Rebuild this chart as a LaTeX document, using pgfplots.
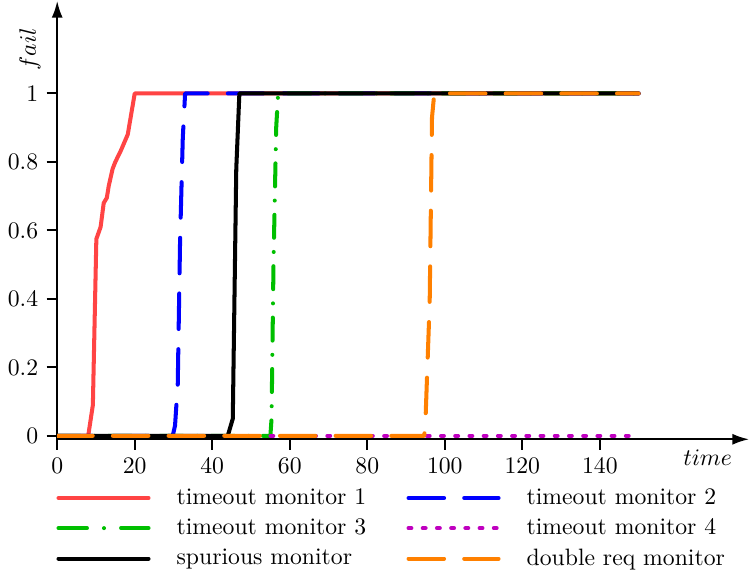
\documentclass[border=0pt]{standalone}
\usepackage{pgfplots}
\pgfplotsset{compat=1.18}
\usetikzlibrary{arrows.meta}
\definecolor{cred}{RGB}{255,68,68}
\definecolor{cblue}{RGB}{0,0,255}
\definecolor{cgreen}{RGB}{0,191,0}
\definecolor{cmag}{RGB}{191,0,191}
\definecolor{corange}{RGB}{255,128,0}
\begin{document}
\begin{tikzpicture}
\begin{axis}[
    scale only axis,
    width = 292pt,
    height = 185pt,
    axis lines = left,
    axis line style = {thick, -{Latex[length=7pt,width=4.6pt]}},
    xmin = 0, xmax = 178.5,
    ymin = -0.01, ymax = 1.27,
    xtick = {0,20,...,140},
    ytick = {0,0.2,...,1},
    tick align = outside,
    major tick length = 4.5pt,
    tick style = {thick, black},
    xlabel = {$time$},
    ylabel = {$fail$},
    x label style = {at={(rel axis cs:0.94,0)}, anchor=north, yshift=-1pt},
    y label style = {at={(rel axis cs:-0.012,0.89)}, anchor=south},
    every axis plot/.append style = {line width=1.7pt, line join=round, line cap=round},
    legend columns = 2,
    legend cell align = left,
    legend image code/.code = {\draw[line width=1.7pt, line cap=round, #1] (0pt,0pt) -- (38pt,0pt);},
    legend style = {draw=none, fill=none, at={(rel axis cs:0,0)}, anchor=north west,
        xshift=-3.5pt, yshift=-16.5pt,
        /tikz/row sep=0.5pt,
        /tikz/every odd column/.append style={column sep=9pt},
        /tikz/every even column/.append style={column sep=15pt}},
]
\addplot[cred] coordinates {
    (0,0) (8,0) (9.2,0.09) (10.1,0.575) (11.2,0.61) (12,0.68) (12.8,0.695)
    (13.3,0.73) (14.3,0.78) (15,0.80) (16.5,0.835) (18.2,0.88) (20,1) (150,1)
};
\addplot[cblue, dash pattern=on 15pt off 8.5pt] coordinates {
    (0,0) (29.8,0) (30.4,0.03) (31.1,0.15) (31.7,0.57) (32.4,0.87) (33,1) (150,1)
};
\addplot[cgreen, dash pattern=on 9.7pt off 6pt on 0pt off 6pt,
    legend image post style={dash pattern=on 12pt off 7.2pt on 0pt off 7.2pt}] coordinates {
    (0,0) (55,0) (55.3,0.05) (55.8,0.5) (56.5,0.9) (57,1) (150,1)
};
\addplot[cmag, dash pattern=on 1.2pt off 4.8pt] coordinates {
    (0,0) (150,0)
};
\addplot[black] coordinates {
    (0,0) (44,0) (45.3,0.05) (46.2,0.78) (47,1) (150,1)
};
\addplot[corange, dash pattern=on 15pt off 8.5pt] coordinates {
    (0,0) (94.7,0) (95,0.04) (96.1,0.39) (96.7,0.93) (97.2,0.99) (98,1) (150,1)
};
\legend{timeout monitor 1, timeout monitor 2, timeout monitor 3, timeout monitor 4, spurious monitor, double req monitor}
\end{axis}
\end{tikzpicture}
\end{document}
